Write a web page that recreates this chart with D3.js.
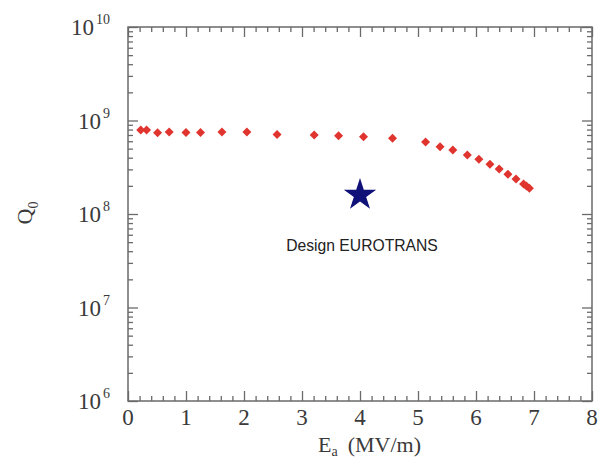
<!DOCTYPE html>
<html><head><meta charset="utf-8">
<script src="https://cdn.jsdelivr.net/npm/d3@7"></script>
<style>
html,body{margin:0;padding:0;background:#fff;}
svg{display:block;}
</style></head>
<body>
<svg id="c" width="598" height="459"></svg>
<script>
// ---- data ----
const fieldEa = [0.22,0.32,0.51,0.71,1.0,1.25,1.62,2.05,2.57,3.21,3.63,4.06,4.56,5.13,5.38,5.60,5.85,6.05,6.24,6.40,6.55,6.69,6.82,6.87,6.92];
const qualityQ0 = [7.9e8,7.9e8,7.4e8,7.55e8,7.45e8,7.45e8,7.55e8,7.55e8,7.1e8,7.0e8,6.88e8,6.7e8,6.45e8,5.9e8,5.25e8,4.84e8,4.27e8,3.84e8,3.4e8,3.03e8,2.66e8,2.37e8,2.09e8,1.99e8,1.88e8];
const designEa = [4.0];
const designQ0 = [1.6e8];
const designLabel = "Design EUROTRANS";
const xTicks = [0,1,2,3,4,5,6,7,8];
const yExponents = [6,7,8,9,10];

const svg = d3.select("#c");
const L=128, R=592, T=27, B=401;
const x = d3.scaleLinear().domain([0,8]).range([L,R]);
const y = d3.scaleLog().domain([1e6,1e10]).range([B,T]);

const axisCol = "#6a6a6a", textCol="#3a3a3a";
const serif = "'Liberation Serif','Times New Roman',serif";

// minor ticks
const xMinor = d3.range(0,8.0001,0.2).map(v=>+v.toFixed(1)).filter(v=>Math.abs(v-Math.round(v))>1e-6);
const yMinor = [];
for (let e=6;e<10;e++) for (let k=2;k<=9;k++) yMinor.push(k*Math.pow(10,e));

function styleAxis(g){
  g.select(".domain").remove();
  g.selectAll("line").attr("stroke",axisCol).attr("stroke-width",1.3);
}
// bottom
svg.append("g").attr("transform",`translate(0,${B})`)
  .call(d3.axisBottom(x).tickValues(xTicks).tickSize(-10).tickFormat("")).call(styleAxis);
svg.append("g").attr("transform",`translate(0,${B})`)
  .call(d3.axisBottom(x).tickValues(xMinor).tickSize(-5).tickFormat("")).call(styleAxis);
// top
svg.append("g").attr("transform",`translate(0,${T})`)
  .call(d3.axisTop(x).tickValues(xTicks).tickSize(-10).tickFormat("")).call(styleAxis);
svg.append("g").attr("transform",`translate(0,${T})`)
  .call(d3.axisTop(x).tickValues(xMinor).tickSize(-5).tickFormat("")).call(styleAxis);
// left
const yMajor = yExponents.map(e=>Math.pow(10,e));
svg.append("g").attr("transform",`translate(${L},0)`)
  .call(d3.axisLeft(y).tickValues(yMajor).tickSize(-10).tickFormat("")).call(styleAxis);
svg.append("g").attr("transform",`translate(${L},0)`)
  .call(d3.axisLeft(y).tickValues(yMinor).tickSize(-5).tickFormat("")).call(styleAxis);
// right
svg.append("g").attr("transform",`translate(${R},0)`)
  .call(d3.axisRight(y).tickValues(yMajor).tickSize(-10).tickFormat("")).call(styleAxis);
svg.append("g").attr("transform",`translate(${R},0)`)
  .call(d3.axisRight(y).tickValues(yMinor).tickSize(-5).tickFormat("")).call(styleAxis);

// frame
svg.append("rect").attr("x",L).attr("y",T).attr("width",R-L).attr("height",B-T)
  .attr("fill","none").attr("stroke",axisCol).attr("stroke-width",1.5);

// x tick labels
svg.append("g").selectAll("text").data(xTicks).join("text")
  .attr("x",d=>x(d)).attr("y",B+24).attr("text-anchor","middle")
  .attr("font-family",serif).attr("font-size",23).attr("fill",textCol)
  .text(d=>d);

// y tick labels with superscript
const yl = svg.append("g").selectAll("text").data(yExponents).join("text")
  .attr("y",d=>y(Math.pow(10,d))+8).attr("text-anchor","start")
  .attr("x",d=>d===10?71:78)
  .attr("font-family",serif).attr("font-size",23).attr("fill",textCol);
yl.append("tspan").text("10");
yl.append("tspan").attr("dy",-11).attr("dx",2).attr("font-size",14).text(d=>d);

// axis titles
const xt = svg.append("text").attr("x",318).attr("y",452).attr("text-anchor","start")
  .attr("font-family",serif).attr("font-size",22).attr("fill",textCol);
xt.append("tspan").text("E");
xt.append("tspan").attr("dy",4).attr("font-size",14).text("a");
xt.append("tspan").attr("dy",-4).attr("dx",10).text("(MV/m)");

const yt = svg.append("text").attr("transform","translate(32,213) rotate(-90)").attr("text-anchor","middle")
  .attr("font-family",serif).attr("font-size",22).attr("fill",textCol);
yt.append("tspan").text("Q");
yt.append("tspan").attr("dy",6).attr("font-size",14).text("0");

// data diamonds
const h=4.5;
svg.append("g").selectAll("path").data(fieldEa.map((e,i)=>[e,qualityQ0[i]])).join("path")
  .attr("transform",d=>`translate(${x(d[0])},${y(d[1])})`)
  .attr("d",`M0,${-h}L${h},0L0,${h}L${-h},0Z`)
  .attr("fill","#e0342f");

// design star
const star = d3.symbol().type(d3.symbolStar).size(17*17/0.8908130915292852);
svg.append("g").selectAll("path").data(designEa.map((e,i)=>[e,designQ0[i]])).join("path")
  .attr("transform",d=>`translate(${x(d[0])},${y(d[1])})`)
  .attr("d",star()).attr("fill","#0f1078");

svg.append("text").attr("x",x(designEa[0])+2).attr("y",y(designQ0[0])+56).attr("text-anchor","middle")
  .attr("font-family","'Liberation Sans',Arial,sans-serif").attr("font-size",15.7).attr("fill","#222")
  .text(designLabel);
</script>
</body></html>
